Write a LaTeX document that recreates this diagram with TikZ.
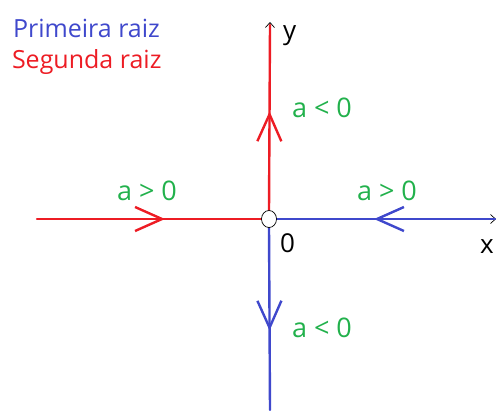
\documentclass[tikz,border=0pt]{standalone}
\usepackage{fontspec}
\setmainfont{Open Sans}
\usetikzlibrary{arrows.meta,decorations.markings}

\definecolor{raizazul}{RGB}{63,72,204}
\definecolor{raizverm}{RGB}{237,28,36}
\definecolor{condverde}{RGB}{34,177,76}

\tikzset{
  eixo/.style={draw=black, line width=0.7bp, -{Straight Barb[length=5bp,width=9bp]}},
  raiz1/.style={draw=raizazul, line width=2.4bp},
  raiz2/.style={draw=raizverm, line width=2.4bp},
  rotulo/.style={anchor=base west, inner sep=0pt, outer sep=0pt, font=\fontsize{26bp}{30bp}\selectfont},
  legenda/.style={rotulo, font=\fontsize{25bp}{29bp}\selectfont},
  cond/.style={rotulo, text=condverde, font=\fontsize{27bp}{30bp}\selectfont},
  seta/.style={postaction={decorate}, decoration={markings,
      mark=at position #1 with {\arrow{Straight Barb[length=27bp,width=24bp,line width=2.4bp]}}}},
}

\begin{document}
\begin{tikzpicture}[x=1bp, y=-1bp, line cap=round, line join=round]
  \useasboundingbox (0,0) rectangle (496,410);
  % eixos
  \coordinate (xfim) at (496,219);
  \coordinate (yfim) at (270,22);
  \coordinate (xini) at (37,219);
  \coordinate (ybaixo) at (270,410);
  \node[circle, minimum width=15bp, minimum height=15bp, inner sep=0pt] (o) at (269,219) {};
  \path[eixo] (o.east) -- (xfim);
  \path[eixo] (o.north) -- (yfim);
  % segunda raiz
  \path[raiz2, seta=128bp] (xini) -- (o.west);
  \path[raiz2, seta=100bp] (o.north) -- (270,25);
  % primeira raiz
  \path[raiz1, seta=121bp] (495,219) -- (o.east);
  \path[raiz1, seta=104bp] (o.south) -- (ybaixo);
  \path[draw=black, fill=white, line width=0.7bp] (o) ellipse (7.5bp and 8.5bp);
  % textos
  \node[legenda, text=raizazul] (leg1) at (13,37) {Primeira raiz};
  \node[legenda, text=raizverm] (leg2) at (12,68) {Segunda raiz};
  \node[rotulo] (ylab) at (283,39) {y};
  \node[rotulo] (xlab) at (480,253) {x};
  \node[rotulo] (olab) at (280,252) {0};
  \node[cond] (c1) at (292,117) {a < 0};
  \node[cond] (c2) at (117,200) {a > 0};
  \node[cond] (c3) at (357,200) {a > 0};
  \node[cond] (c4) at (292,337) {a < 0};
\end{tikzpicture}
\end{document}
